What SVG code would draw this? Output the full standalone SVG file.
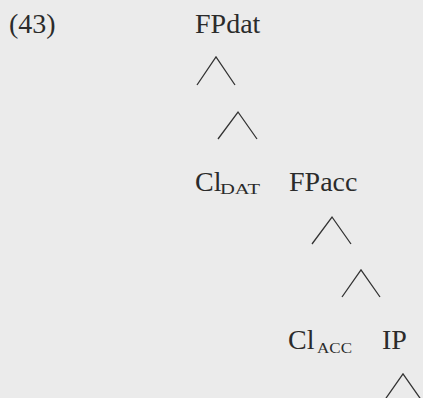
<svg xmlns="http://www.w3.org/2000/svg" width="423" height="398" viewBox="0 0 423 398">
<style>
text{font-family:"Liberation Serif","Times New Roman",serif;fill:#2b2b2b}
.l{font-size:28px}
.s{font-size:14px}
.e{fill:none;stroke:#333;stroke-width:1.3}
</style>
<rect width="423" height="398" fill="#ebebeb"/>
<text class="l" x="9" y="33">(43)</text>
<g id="FPdat"><text class="l" x="195" y="33">FPdat</text></g>
<g id="ClDAT"><text class="l" x="195" y="191">Cl</text><text class="s" x="220" y="194" textLength="40" lengthAdjust="spacingAndGlyphs">DAT</text></g>
<g id="FPacc"><text class="l" x="289" y="191">FPacc</text></g>
<g id="ClACC"><text class="l" x="288" y="349">Cl</text><text class="s" x="317" y="353" textLength="35" lengthAdjust="spacingAndGlyphs">ACC</text></g>
<g id="IP"><text class="l" x="382" y="349">IP</text></g>
<g id="connectors">
<polyline class="e" points="197,85 216,57 235,85"/>
<polyline class="e" points="218,139 238,112 257,139"/>
<polyline class="e" points="312,244 332,217 351,244"/>
<polyline class="e" points="342,297 361,270 380,297"/>
<polyline class="e" points="384,401 403,374 422,401"/>
</g>
</svg>
